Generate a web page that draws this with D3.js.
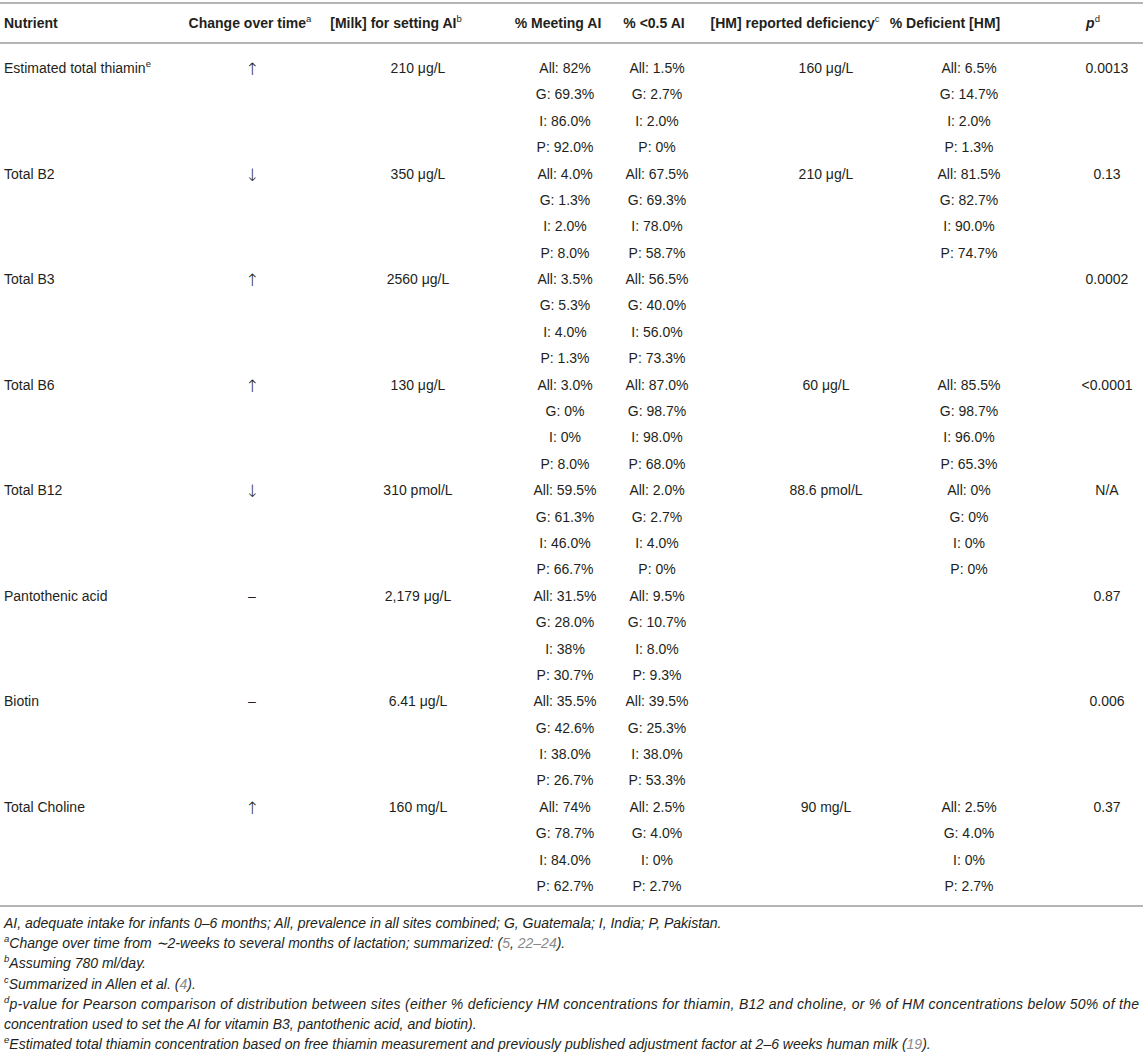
<!DOCTYPE html>
<html>
<head>
<meta charset="utf-8">
<script src="https://cdn.jsdelivr.net/npm/d3@7"></script>
<style>
  body { margin: 0; background: #fff; }
  svg text { font-family: "Liberation Sans", Arial, Helvetica, sans-serif; fill: #231f20; }
</style>
</head>
<body>
<div id="table"></div>
<script>
// table contents
const nutrients = ["Estimated total thiamin", "Total B2", "Total B3", "Total B6", "Total B12",
                   "Pantothenic acid", "Biotin", "Total Choline"];
const nutrientSup = ["e", "", "", "", "", "", "", ""];
const changeOverTime = ["↑", "↓", "↑", "↑", "↓", "–", "–", "↑"];
const milkForAI = ["210 μg/L", "350 μg/L", "2560 μg/L", "130 μg/L", "310 pmol/L",
                   "2,179 μg/L", "6.41 μg/L", "160 mg/L"];
const meetingAI = [
  ["All: 82%", "G: 69.3%", "I: 86.0%", "P: 92.0%"],
  ["All: 4.0%", "G: 1.3%", "I: 2.0%", "P: 8.0%"],
  ["All: 3.5%", "G: 5.3%", "I: 4.0%", "P: 1.3%"],
  ["All: 3.0%", "G: 0%", "I: 0%", "P: 8.0%"],
  ["All: 59.5%", "G: 61.3%", "I: 46.0%", "P: 66.7%"],
  ["All: 31.5%", "G: 28.0%", "I: 38%", "P: 30.7%"],
  ["All: 35.5%", "G: 42.6%", "I: 38.0%", "P: 26.7%"],
  ["All: 74%", "G: 78.7%", "I: 84.0%", "P: 62.7%"]
];
const belowHalfAI = [
  ["All: 1.5%", "G: 2.7%", "I: 2.0%", "P: 0%"],
  ["All: 67.5%", "G: 69.3%", "I: 78.0%", "P: 58.7%"],
  ["All: 56.5%", "G: 40.0%", "I: 56.0%", "P: 73.3%"],
  ["All: 87.0%", "G: 98.7%", "I: 98.0%", "P: 68.0%"],
  ["All: 2.0%", "G: 2.7%", "I: 4.0%", "P: 0%"],
  ["All: 9.5%", "G: 10.7%", "I: 8.0%", "P: 9.3%"],
  ["All: 39.5%", "G: 25.3%", "I: 38.0%", "P: 53.3%"],
  ["All: 2.5%", "G: 4.0%", "I: 0%", "P: 2.7%"]
];
const hmDeficiency = ["160 μg/L", "210 μg/L", "", "60 μg/L", "88.6 pmol/L", "", "", "90 mg/L"];
const deficientHM = [
  ["All: 6.5%", "G: 14.7%", "I: 2.0%", "P: 1.3%"],
  ["All: 81.5%", "G: 82.7%", "I: 90.0%", "P: 74.7%"],
  [],
  ["All: 85.5%", "G: 98.7%", "I: 96.0%", "P: 65.3%"],
  ["All: 0%", "G: 0%", "I: 0%", "P: 0%"],
  [],
  [],
  ["All: 2.5%", "G: 4.0%", "I: 0%", "P: 2.7%"]
];
const pValues = ["0.0013", "0.13", "0.0002", "<0.0001", "N/A", "0.87", "0.006", "0.37"];

const headers = ["Nutrient", "Change over time", "[Milk] for setting AI", "% Meeting AI",
                 "% <0.5 AI", "[HM] reported deficiency", "% Deficient [HM]", "p"];
const headerSup = ["", "a", "b", "", "", "c", "", "d"];

// footnotes: each line is a list of [text, style] pieces
const footnotes = [
  [["AI, adequate intake for infants 0–6 months; All, prevalence in all sites combined; G, Guatemala; I, India; P, Pakistan.", ""]],
  [["a", "sup"], ["Change over time from ∼2-weeks to several months of lactation; summarized: (", ""], ["5", "ref"], [", ", ""], ["22–24", "ref"], [").", ""]],
  [["b", "sup"], ["Assuming 780 ml/day.", ""]],
  [["c", "sup"], ["Summarized in Allen et al. (", ""], ["4", "ref"], [").", ""]],
  [["d", "sup"], ["p-value for Pearson comparison of distribution between sites (either % deficiency HM concentrations for thiamin, B12 and choline, or % of HM concentrations below 50% of the", ""]],
  [["concentration used to set the AI for vitamin B3, pantothenic acid, and biotin).", ""]],
  [["e", "sup"], ["Estimated total thiamin concentration based on free thiamin measurement and previously published adjustment factor at 2–6 weeks human milk (", ""], ["19", "ref"], [").", ""]]
];
// footnote line that wraps, so it is justified to the full width
const justifiedNote = 4;

const W = 1143, H = 1054;
const linesPerRow = 4;

const svg = d3.select("#table").append("svg")
    .attr("width", W)
    .attr("height", H);

// column layout: header x, value x, anchor
const cols = [
  {hx: 4,    vx: 4,    anchor: "start"},
  {hx: 250,  vx: 252,  anchor: "middle"},
  {hx: 396,  vx: 418,  anchor: "middle"},
  {hx: 558,  vx: 565,  anchor: "middle"},
  {hx: 654,  vx: 657,  anchor: "middle"},
  {hx: 795,  vx: 826,  anchor: "middle"},
  {hx: 945,  vx: 969,  anchor: "middle"},
  {hx: 1093, vx: 1107, anchor: "middle"}
];

// baseline of each text line in the body
const nLines = nutrients.length * linesPerRow;
const y = d3.scaleLinear().domain([0, nLines - 1]).range([73, 891]);
const yNote = d3.scaleLinear().domain([0, footnotes.length - 1]).range([928, 1049]);

// rules
const rules = [3, 43, 906];
svg.selectAll("line.rule")
    .data(rules)
    .join("line")
    .attr("class", "rule")
    .attr("x1", 0).attr("x2", W)
    .attr("y1", d => d).attr("y2", d => d)
    .attr("stroke", "#b5b5b5")
    .attr("stroke-width", 2);

// header
const head = svg.selectAll("text.head")
    .data(headers)
    .join("text")
    .attr("class", "head")
    .attr("x", (d, i) => cols[i].hx)
    .attr("y", 28)
    .attr("text-anchor", (d, i) => cols[i].anchor)
    .attr("font-size", 14)
    .attr("font-weight", "bold");
head.append("tspan")
    .attr("font-style", (d, i) => i === 7 ? "italic" : null)
    .text(d => d);
head.append("tspan")
    .attr("font-size", 9.5)
    .attr("dy", -6)
    .attr("font-weight", "normal")
    .text((d, i) => headerSup[i]);

// body rows
const rows = svg.selectAll("g.row")
    .data(nutrients)
    .join("g")
    .attr("class", "row");

function cell(g, colIdx, getLines) {
  return g.selectAll("text.c" + colIdx)
    .data((d, i) => getLines(i).map((t, k) => ({t: t, line: i * linesPerRow + k})))
    .join("text")
    .attr("class", "c" + colIdx)
    .attr("x", cols[colIdx].vx)
    .attr("y", d => y(d.line))
    .attr("text-anchor", cols[colIdx].anchor)
    .attr("font-size", 14)
    .text(d => d.t);
}

// nutrient names with superscript
const names = rows.append("text")
    .attr("x", cols[0].vx)
    .attr("y", (d, i) => y(i * linesPerRow))
    .attr("font-size", 14);
names.append("tspan").text(d => d);
names.append("tspan")
    .attr("font-size", 9.5)
    .attr("dy", -6)
    .text((d, i) => nutrientSup[i]);

// arrows need a font with full-size arrow glyphs; the dash stays in the body font
cell(rows, 1, i => [changeOverTime[i]])
    .style("font-family", d => d.t === "–" ? null : "'DejaVu Sans', sans-serif")
    .style("font-weight", "200")
    .attr("font-size", d => d.t === "–" ? 14 : 17)
    .attr("dy", d => d.t === "–" ? 0 : 2);
cell(rows, 2, i => [milkForAI[i]]);
cell(rows, 3, i => meetingAI[i]);
cell(rows, 4, i => belowHalfAI[i]);
cell(rows, 5, i => hmDeficiency[i] ? [hmDeficiency[i]] : []);
cell(rows, 6, i => deficientHM[i]);
cell(rows, 7, i => [pValues[i]]);

// footnotes
const notes = svg.selectAll("text.note")
    .data(footnotes)
    .join("text")
    .attr("class", "note")
    .attr("x", 4)
    .attr("y", (d, i) => yNote(i))
    .attr("font-size", 14)
    .attr("font-style", "italic");

notes.each(function(parts, i) {
  const t = d3.select(this);
  parts.forEach((p, k) => {
    const s = t.append("tspan").text(p[0]);
    if (p[1] === "sup") {
      s.attr("font-size", 9.5).attr("dy", -6);
    } else if (p[1] === "ref") {
      s.style("fill", "#8a8a8a");
    }
    // back down to the baseline after a superscript
    if (k === 1 && parts[0][1] === "sup") s.attr("dy", 6);
  });
  if (i === justifiedNote) {
    t.attr("textLength", W - 8).attr("lengthAdjust", "spacing");
  }
});
</script>
</body>
</html>
